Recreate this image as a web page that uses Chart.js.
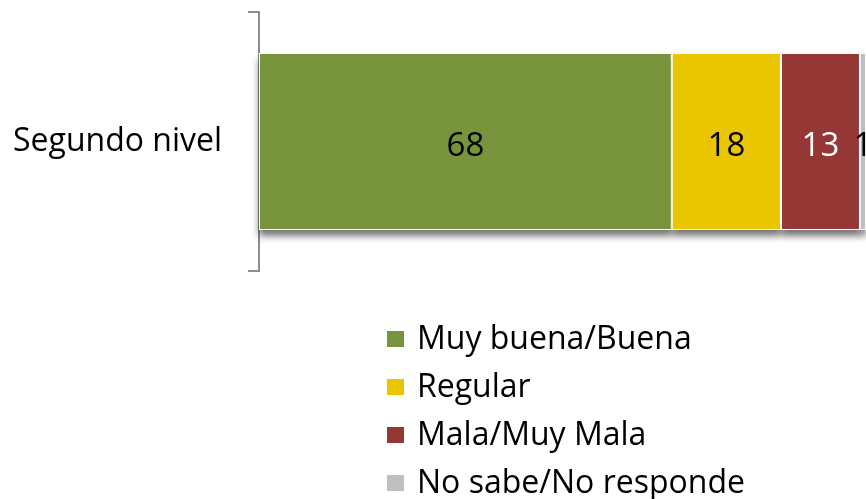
<!DOCTYPE html>
<html>
<head>
<meta charset="utf-8">
<script src="https://cdn.jsdelivr.net/npm/chart.js@4/dist/chart.umd.min.js"></script>
<style>
body { margin: 0; background: #fff; overflow: hidden; font-family: 'Open Sans', sans-serif; }
#wrap { position: relative; width: 866px; height: 499px; }
#bars { display: block; }
#legend { position: absolute; left: 387px; top: 313px; }
.row { position: relative; height: 48px; line-height: 48px; font-size: 32px; color: #000; white-space: nowrap; padding-left: 30px; }
.box { position: absolute; left: 0; top: 18px; width: 17px; height: 16px; }
</style>
</head>
<body>
<div id="wrap">
  <canvas id="bars" width="866" height="499"></canvas>
  <div id="legend"></div>
</div>
<script>
const categories = ['Segundo nivel'];
const seriesNames = ['Muy buena/Buena', 'Regular', 'Mala/Muy Mala', 'No sabe/No responde'];
const muyBuena = [68];
const regular = [18];
const mala = [13];
const noSabe = [1];
const colors = ['#77933c', '#e9c600', '#953735', '#bfbfbf'];
const labelColors = ['#000', '#000', '#fff', '#000'];

const series = [muyBuena, regular, mala, noSabe];
var datasets = [];
for (var i = 0; i < series.length; i++) {
  datasets.push({
    label: seriesNames[i],
    data: series[i],
    backgroundColor: colors[i],
    borderColor: '#fff',
    borderWidth: 1,
    borderSkipped: false,
    barPercentage: 0.683,
    categoryPercentage: 1
  });
}

// soft shadow under the bar segments (the bar element clips its own drawing,
// so the shadow is painted in a pass before the datasets)
const shadow = {
  id: 'shadow',
  beforeDatasetsDraw(chart) {
    const c = chart.ctx;
    c.save();
    c.shadowColor = 'rgba(0,0,0,0.55)';
    c.shadowBlur = 7;
    c.shadowOffsetY = 6;
    c.fillStyle = '#fff';
    chart.data.datasets.forEach(function (ds, di) {
      chart.getDatasetMeta(di).data.forEach(function (bar) {
        const p = bar.getProps(['x', 'y', 'base', 'height']);
        c.fillRect(Math.min(p.base, p.x), p.y - p.height / 2, Math.abs(p.x - p.base), p.height);
      });
    });
    c.restore();
  }
};

// value written in the middle of each segment
const values = {
  id: 'values',
  afterDatasetsDraw(chart) {
    const c = chart.ctx;
    c.save();
    c.font = '33px "Open Sans"';
    c.textAlign = 'center';
    c.textBaseline = 'middle';
    chart.data.datasets.forEach(function (ds, di) {
      const meta = chart.getDatasetMeta(di);
      meta.data.forEach(function (bar, j) {
        const p = bar.getCenterPoint();
        c.fillStyle = labelColors[di];
        c.fillText(String(ds.data[j]), p.x, p.y + 5);
      });
    });
    c.restore();
  }
};

const chart = new Chart(document.getElementById('bars'), {
  type: 'bar',
  data: { labels: categories, datasets: datasets },
  options: {
    indexAxis: 'y',
    responsive: false,
    animation: false,
    devicePixelRatio: 1,
    layout: { padding: { left: 0, right: 0, top: 12, bottom: 228 } },
    plugins: { legend: { display: false }, tooltip: { enabled: false } },
    scales: {
      x: { stacked: true, min: 0, max: 100, display: false },
      y: {
        stacked: true,
        afterFit: function (s) {
          s.width = 259;
          s.paddingTop = 0;
          s.paddingBottom = 0;
        },
        grid: { offset: true, drawOnChartArea: false, tickLength: 11, color: '#8e8e8e', lineWidth: 2 },
        border: { color: '#8e8e8e', width: 2 },
        ticks: { color: '#000', padding: 26, font: { family: 'Open Sans', size: 32 } }
      }
    }
  },
  plugins: [shadow, values]
});

// legend list, one row per series
const legend = document.getElementById('legend');
datasets.forEach(function (ds) {
  const row = document.createElement('div');
  row.className = 'row';
  const box = document.createElement('span');
  box.className = 'box';
  box.style.background = ds.backgroundColor;
  row.appendChild(box);
  row.appendChild(document.createTextNode(ds.label));
  legend.appendChild(row);
});
</script>
</body>
</html>
